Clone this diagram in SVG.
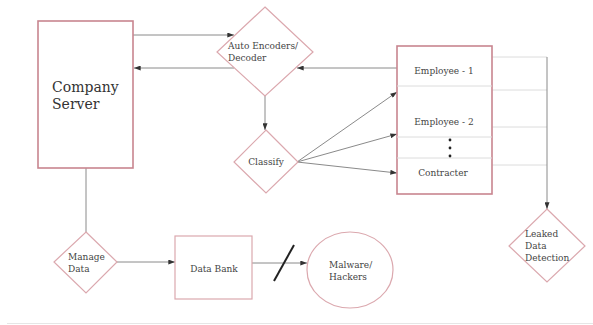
<svg xmlns="http://www.w3.org/2000/svg" width="593" height="325" viewBox="0 0 593 325">
<style>
.box{fill:#fff;stroke:#c8858f;stroke-width:1.6}
.lt{fill:#fff;stroke:#dba8ae;stroke-width:1.2}
.c{fill:none;stroke:#8a8a8a;stroke-width:1}
.fl{fill:none;stroke:#dcdcdc;stroke-width:1}
text{font-family:'DejaVu Serif',serif;fill:#444;font-size:9px}
.big{font-size:14px;fill:#333}
</style>
<defs>
<marker id="ah" viewBox="0 0 8 6" refX="8" refY="3" markerWidth="7" markerHeight="5" orient="auto" markerUnits="userSpaceOnUse">
<path d="M0,0 L8,3 L0,6 z" fill="#333"/>
</marker>
</defs>
<rect width="593" height="325" fill="#fff"/>
<line x1="7" y1="323.5" x2="593" y2="323.5" stroke="#e6e6e6" stroke-width="1"/>
<g id="connectors">
<line class="c" x1="133" y1="35" x2="234" y2="35" marker-end="url(#ah)"/>
<line class="c" x1="234" y1="68" x2="134" y2="68" marker-end="url(#ah)"/>
<line class="c" x1="397" y1="68" x2="297" y2="68" marker-end="url(#ah)"/>
<line class="c" x1="265" y1="96" x2="265" y2="130" marker-end="url(#ah)"/>
<line class="c" x1="297" y1="162" x2="397" y2="92" marker-end="url(#ah)"/>
<line class="c" x1="297" y1="162" x2="397" y2="134" marker-end="url(#ah)"/>
<line class="c" x1="297" y1="162" x2="397" y2="173" marker-end="url(#ah)"/>
<line class="c" x1="86" y1="168" x2="86" y2="232"/>
<line class="c" x1="117" y1="262" x2="175" y2="262" marker-end="url(#ah)"/>
<line class="c" x1="252" y1="263" x2="307" y2="263" marker-end="url(#ah)"/>
<line x1="274" y1="281" x2="294" y2="245" stroke="#222" stroke-width="2"/>
<line class="fl" x1="492" y1="57" x2="547" y2="57"/>
<line class="fl" x1="492" y1="90" x2="547" y2="90"/>
<line class="fl" x1="492" y1="127" x2="547" y2="127"/>
<line class="fl" x1="492" y1="165" x2="547" y2="165"/>
<line class="c" x1="547" y1="57" x2="547" y2="209" marker-end="url(#ah)"/>
</g>
<g id="company-server">
<rect class="box" x="38" y="21" width="95" height="147"/>
<text class="big" x="52" y="92">Company</text>
<text class="big" x="52" y="109">Server</text>
</g>
<g id="auto-encoders">
<polygon class="lt" points="265,7 313,52 265,96 217,52"/>
<text x="228" y="49">Auto Encoders/</text>
<text x="228" y="61">Decoder</text>
</g>
<g id="classify">
<polygon class="lt" points="266,130 298,162 266,193 234,162"/>
<text x="266" y="165" text-anchor="middle">Classify</text>
</g>
<g id="employees">
<rect class="box" x="397" y="46" width="95" height="148"/>
<line class="fl" x1="397" y1="86" x2="492" y2="86"/>
<line class="fl" x1="397" y1="137" x2="492" y2="137"/>
<line class="fl" x1="397" y1="158" x2="492" y2="158"/>
<text x="444" y="74" text-anchor="middle">Employee - 1</text>
<text x="444" y="125" text-anchor="middle">Employee - 2</text>
<circle cx="450" cy="140" r="1.4" fill="#222"/>
<circle cx="450" cy="148" r="1.4" fill="#222"/>
<circle cx="450" cy="156" r="1.4" fill="#222"/>
<text x="443" y="176" text-anchor="middle">Contracter</text>
</g>
<g id="manage-data">
<polygon class="lt" points="86,232 117,262 86,293 54,262"/>
<text x="68" y="260">Manage</text>
<text x="68" y="272">Data</text>
</g>
<g id="data-bank">
<rect class="lt" x="175" y="236" width="77" height="63"/>
<text x="214" y="272" text-anchor="middle">Data Bank</text>
</g>
<g id="malware">
<ellipse class="lt" cx="350" cy="270" rx="43" ry="38"/>
<text x="329" y="268">Malware/</text>
<text x="329" y="280">Hackers</text>
</g>
<g id="leaked">
<polygon class="lt" points="547,209 585,246 547,282 509,246"/>
<text x="525" y="237">Leaked</text>
<text x="525" y="249">Data</text>
<text x="525" y="261">Detection</text>
</g>
</svg>
